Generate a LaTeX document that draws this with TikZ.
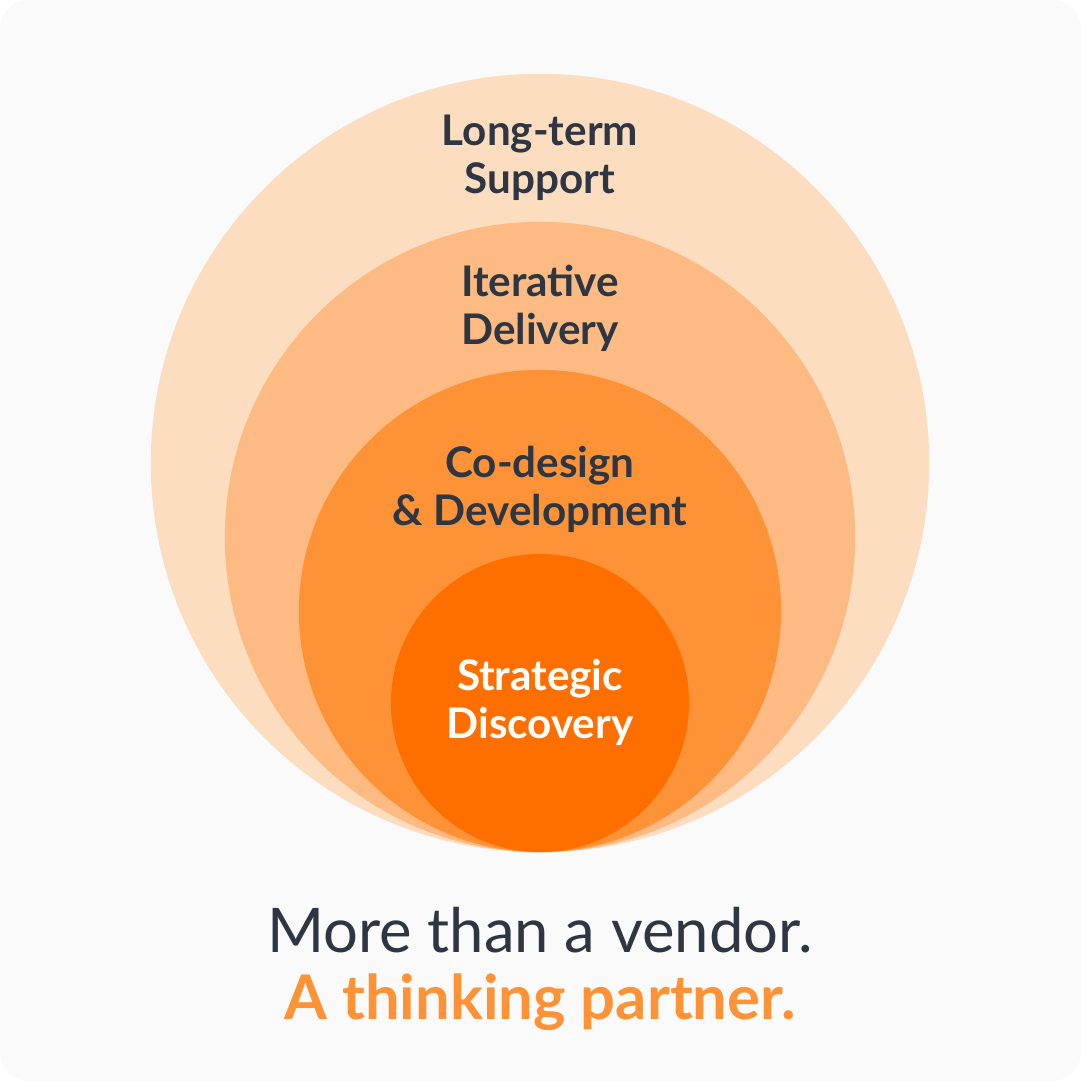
\documentclass[tikz,border=0pt]{standalone}
\usepackage{fontspec}
\setmainfont{Lato}
\definecolor{ink}{HTML}{2D3642}
\definecolor{ringA}{HTML}{FDDDBF}
\definecolor{ringB}{HTML}{FDBA82}
\definecolor{ringC}{HTML}{FD9336}
\definecolor{ringD}{HTML}{FF6F00}
\definecolor{paper}{HTML}{FAFAFA}
\begin{document}
\begin{tikzpicture}[x=0.01cm,y=-0.01cm,
    ring/.style={circle,inner sep=0pt,minimum size=#1},
    lbl/.style={align=center,font=\fontsize{12}{13.7}\selectfont\bfseries,text=ink}]
  % background
  \fill[paper,rounded corners=8] (0,0) rectangle (1081,1081);
  \useasboundingbox (0,0) rectangle (1081,1081);
  % rings, all touching at the bottom
  \node[ring=7.78cm,fill=ringA] (support) at (540,463) {};
  \node[ring=6.30cm,fill=ringB] (delivery) at (540,537) {};
  \node[ring=4.82cm,fill=ringC] (codesign) at (540,611) {};
  \node[ring=2.98cm,fill=ringD] (discovery) at (540,703) {};
  % labels
  \node[lbl] (supportlbl) at (540,158) {Long-term\\Support};
  \node[lbl] (deliverylbl) at (540,308) {Iterative\\Delivery};
  \node[lbl] (codesignlbl) at (540,489) {Co-design\\\& Development};
  \node[lbl,text=white] (discoverylbl) at (540,702) {Strategic\\Discovery};
  % tagline
  \node[font=\fontsize{17.5}{20}\selectfont,text=ink] (tagA) at (540,930) {More than a vendor.};
  \node[font=\fontsize{17.5}{20}\selectfont\bfseries,text=ringC] (tagB) at (540,1002) {A thinking partner.};
\end{tikzpicture}
\end{document}
